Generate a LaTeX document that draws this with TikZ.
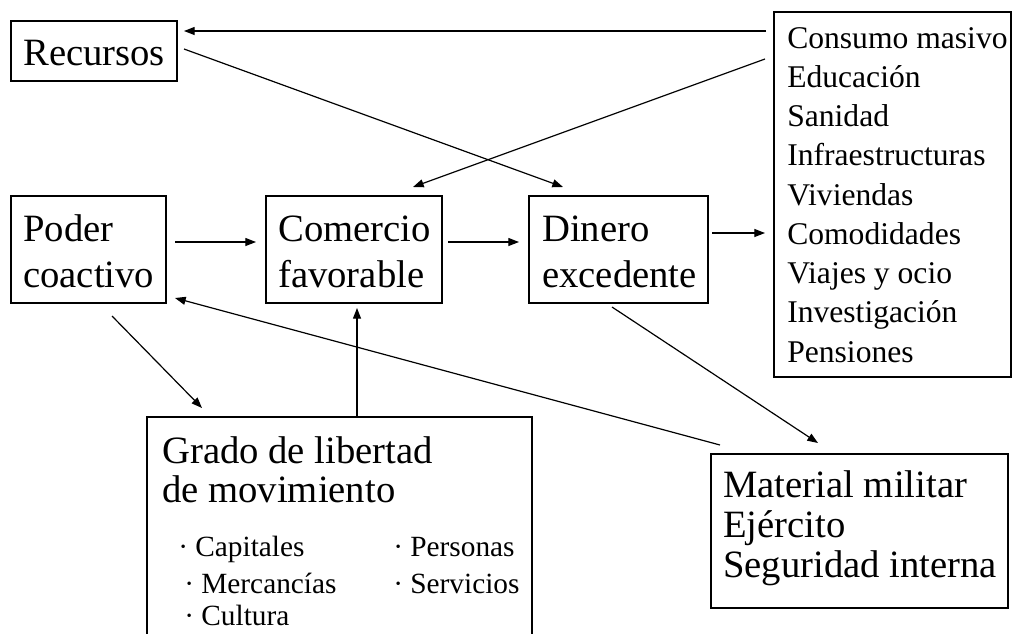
\documentclass[tikz,border=0pt]{standalone}
\usepackage{fontspec}
\setmainfont{Liberation Serif}
\usetikzlibrary{arrows.meta,calc}
\begin{document}
\begin{tikzpicture}[x=0.75pt,y=-0.75pt,
 box/.style={draw,line width=1.2pt,inner sep=0pt,outer sep=0pt,anchor=north west},
 big/.style={font=\fontsize{29}{34}\selectfont,anchor=base west,inner sep=0pt},
 mid/.style={font=\fontsize{23.7}{28}\selectfont,anchor=base west,inner sep=0pt},
 small/.style={font=\fontsize{22}{26}\selectfont,anchor=base west,inner sep=0pt},
 arr/.style={line width=0.9pt,-{Triangle[length=8pt,width=6pt]}}]
\clip (0,0) rectangle (1013,633);
\fill[white] (0,0) rectangle (1013,633);
% boxes
\node[box,minimum width=124.5pt,minimum height=45pt] (rec) at (11,21) {};
\node[box,minimum width=116.25pt,minimum height=80.25pt] (pod) at (11,196) {};
\node[box,minimum width=132pt,minimum height=80.25pt] (com) at (266,196) {};
\node[box,minimum width=134.25pt,minimum height=80.25pt] (din) at (529,196) {};
\node[box,minimum width=177.75pt,minimum height=273.75pt] (cons) at (774,12) {};
\node[box,minimum width=288.75pt,minimum height=174.75pt] (gra) at (147,417) {};
\node[box,minimum width=222.75pt,minimum height=115.5pt] (mil) at (711,454) {};
% texts
\node[big] (tRec) at (23,65) {Recursos};
\node[big] (tPod1) at (23,241) {Poder};
\node[big] (tPod2) at (23,287) {coactivo};
\node[big] (tCom1) at (278,241) {Comercio};
\node[big] (tCom2) at (278,287) {favorable};
\node[big] (tDin1) at (542,241) {Dinero};
\node[big] (tDin2) at (542,287) {excedente};
\node[mid] (c1) at (787,48) {Consumo masivo};
\node[mid] (c2) at (787,87.25) {Educación};
\node[mid] (c3) at (787,126.5) {Sanidad};
\node[mid] (c4) at (787,165.75) {Infraestructuras};
\node[mid] (c5) at (787,205) {Viviendas};
\node[mid] (c6) at (787,244.25) {Comodidades};
\node[mid] (c7) at (787,283.5) {Viajes y ocio};
\node[mid] (c8) at (787,322.75) {Investigación};
\node[mid] (c9) at (787,362) {Pensiones};
\node[big] (g1) at (162,463) {Grado de libertad};
\node[big] (g2) at (162,502) {de movimiento};
\node[small] (s1) at (178,556) {· Capitales};
\node[small] (s2) at (184,593) {· Mercancías};
\node[small] (s3) at (184,625) {· Cultura};
\node[small] (s4) at (393,556) {· Personas};
\node[small] (s5) at (393,593) {· Servicios};
\node[big] (m1) at (723,497) {Material militar};
\node[big] (m2) at (723,537) {Ejército};
\node[big] (m3) at (723,577) {Seguridad interna};
% connectors
\draw[arr] ($(cons.north west)+(-8,19)$) -- ($(rec.north east)+(7,10)$);
\draw[arr] ($(cons.north west)+(-9,47)$) -- ($(com.north west)+(147,-9)$);
\draw[arr] ($(rec.north east)+(7,28)$) -- ($(din.north west)+(34,-9)$);
\draw[arr] ($(pod.north east)+(9,46)$) -- ($(com.north west)+(-10,46)$);
\draw[arr] ($(com.north east)+(6,46)$) -- ($(din.north west)+(-10,46)$);
\draw[arr] ($(din.north east)+(4,37)$) -- ($(cons.north west)+(-9,221)$);
\draw[arr] ($(pod.south west)+(101,13)$) -- ($(gra.north west)+(55,-9)$);
\draw[arr] ($(gra.north west)+(210,0)$) -- ($(com.south west)+(91,5)$);
\draw[arr] ($(mil.north west)+(9,-9)$) -- ($(pod.south east)+(9,-5)$);
\draw[arr] ($(din.south west)+(83,4)$) -- ($(mil.north west)+(107,-11)$);
\end{tikzpicture}
\end{document}
